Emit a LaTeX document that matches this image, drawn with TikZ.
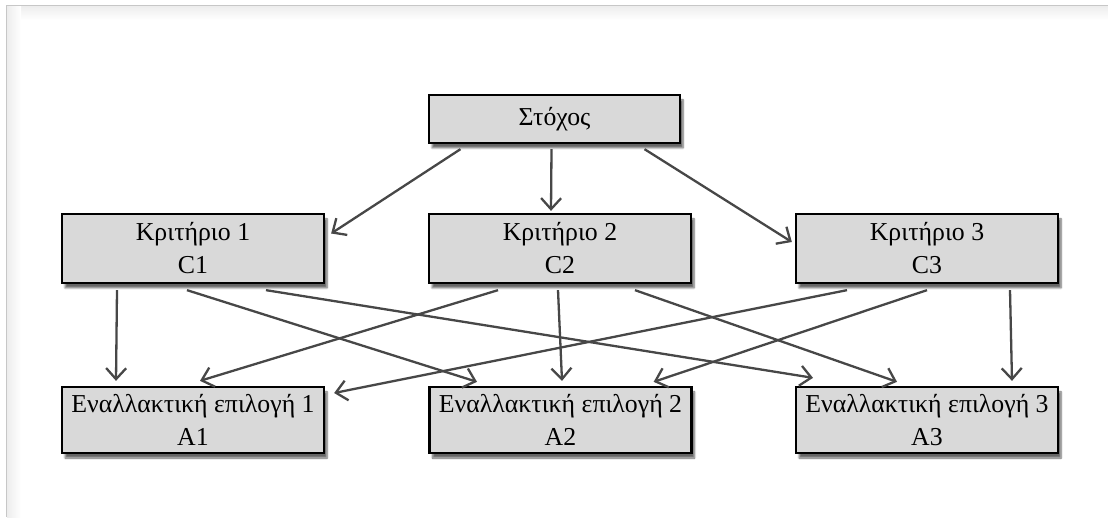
\documentclass[tikz,border=0pt]{standalone}
\usepackage{fontspec}
\setmainfont{Liberation Serif}
\usetikzlibrary{arrows.meta,shadows.blur}

\begin{document}
\begin{tikzpicture}[x=1pt, y=1pt,
    box/.style={draw=black, line width=2.3pt, fill=gray!30, align=center,
        inner sep=0pt, minimum width=262pt, minimum height=69pt,
        font=\fontsize{25.8}{33}\selectfont,
        blur shadow={shadow xshift=3pt, shadow yshift=-5pt, shadow blur steps=6, shadow opacity=60}},
    arr/.style={draw=black!72, line width=2.3pt, -{Straight Barb[length=11pt, width=20pt, line width=2.3pt]}}]
    \useasboundingbox (0,0) rectangle (1108,517);
    % frame
    \shade[top color=black!7, bottom color=white] (7,511) rectangle (1108,497);
    \shade[left color=black!7, right color=white] (7,0) rectangle (21,511);
    \draw[black!22, line width=1pt] (6.5,0) -- (6.5,511.3) -- (1108,511.3);

    \node[box, minimum width=251pt, minimum height=48pt] (goal) at (554.5,398) {Στόχος};
    \node[box] (k1) at (193,268.5) {Κριτήριο 1\\C1};
    \node[box] (k2) at (560,268.5) {Κριτήριο 2\\C2};
    \node[box] (k3) at (927,268.5) {Κριτήριο 3\\C3};
    \node[box, minimum height=66pt] (a1) at (193,97) {Εναλλακτική επιλογή 1\\A1};
    \node[box, minimum height=66pt] (a2) at (560.5,97) {Εναλλακτική επιλογή 2\\A2};
    \node[box, minimum height=66pt] (a3) at (927,97) {Εναλλακτική επιλογή 3\\A3};

    \draw[arr] ([shift={(-94,-5)}]goal.south) -- ([shift={(6,15)}]k1.east);
    \draw[arr] ([shift={(-3,-5)}]goal.south) -- ([shift={(-9,2)}]k2.north);
    \draw[arr] ([shift={(90,-5)}]goal.south) -- ([shift={(-3,6.5)}]k3.west);

    \draw[arr] ([shift={(-76,-6)}]k1.south) -- ([shift={(-77,5)}]a1.north);
    \draw[arr] ([shift={(-6,-6)}]k1.south) -- ([shift={(-83.5,4)}]a2.north);
    \draw[arr] ([shift={(73,-6)}]k1.south) -- ([shift={(-114,8)}]a3.north);

    \draw[arr] ([shift={(-62,-6)}]k2.south) -- ([shift={(7,5)}]a1.north);
    \draw[arr] ([shift={(-2,-6)}]k2.south) -- ([shift={(1.5,5)}]a2.north);
    \draw[arr] ([shift={(75,-6)}]k2.south) -- ([shift={(-30,4)}]a3.north);

    \draw[arr] ([shift={(-80,-6)}]k3.south) -- ([shift={(9,27)}]a1.east);
    \draw[arr] ([shift={(0,-6)}]k3.south) -- ([shift={(-39,4)}]a2.north east);
    \draw[arr] ([shift={(83,-6)}]k3.south) -- ([shift={(85,5)}]a3.north);
\end{tikzpicture}
\end{document}
